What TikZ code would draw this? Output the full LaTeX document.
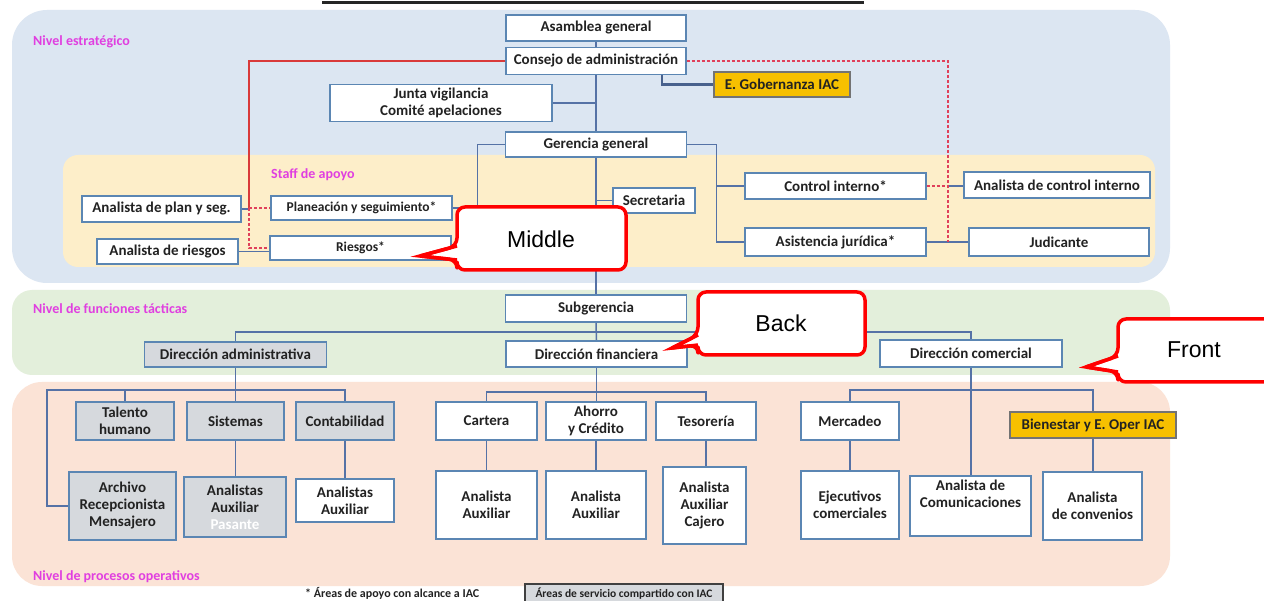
\documentclass[tikz,border=0pt]{standalone}
\usepackage{fontspec}
\setmainfont{Carlito}
\newfontfamily\calloutfont{Liberation Sans}
\usetikzlibrary{calc}
\pgfdeclarelayer{bg}
\pgfdeclarelayer{lines}
\pgfsetlayers{bg,lines,main}
\definecolor{bluebg}{HTML}{DCE6F2}
\definecolor{yellowbg}{HTML}{FDEEC9}
\definecolor{greenbg}{HTML}{E3EFDB}
\definecolor{peachbg}{HTML}{FBE3D6}
\definecolor{bordc}{HTML}{5B86B3}
\definecolor{connc}{HTML}{5572A6}
\definecolor{grayf}{HTML}{D6D9DD}
\definecolor{orangef}{HTML}{F7C000}
\definecolor{magc}{HTML}{E03FE0}
\definecolor{redl}{HTML}{D93A3A}
\definecolor{redd}{HTML}{E0405A}
\definecolor{txtc}{HTML}{222222}
\definecolor{callred}{HTML}{FF0000}
\begin{document}
\begin{tikzpicture}[x=1pt,y=-1pt,
  box/.style={draw=bordc, line width=1.7pt, fill=white, inner sep=0pt, align=center,
    font=\fontsize{15}{17}\selectfont\bfseries, text=txtc},
  sbox/.style={box, font=\fontsize{13.5}{16}\selectfont\bfseries},
  gbox/.style={box, fill=grayf},
  obox/.style={box, fill=orangef, draw=black!55},
  conn/.style={draw=connc, line width=1.5pt},
  redline/.style={draw=redl, line width=1.5pt},
  reddash/.style={draw=redd, line width=1.6pt, dash pattern=on 3pt off 2pt},
  lvl/.style={anchor=base west, inner sep=0pt, text=magc, font=\fontsize{14}{16}\selectfont\bfseries},
  callout/.style={draw=callred, line width=3.5pt, fill=white, line join=round},
  calltext/.style={font=\fontsize{23}{26}\calloutfont, text=black, inner sep=0pt}
]
\useasboundingbox (0,0) rectangle (1264,601);
\clip (0,0) rectangle (1264,601);

% backgrounds
\begin{pgfonlayer}{bg}
\fill[white] (0,0) rectangle (1264,601);
\fill[bluebg, rounded corners=35pt] (12,10) rectangle (1170,283);
\fill[yellowbg, rounded corners=15pt] (63,155) rectangle (1155,267);
\fill[greenbg, rounded corners=20pt] (12,290) rectangle (1170,375);
\fill[peachbg, rounded corners=30pt] (12,382) rectangle (1170,586);
\draw[line width=3pt, black!85] (322,2.5) -- (864,2.5);
\end{pgfonlayer}

% level labels
\node[lvl] (lvl1) at (33,46) {Nivel estratégico};
\node[lvl] (lvl2) at (271,179) {Staff de apoyo};
\node[lvl] (lvl3) at (33,314) {Nivel de funciones tácticas};
\node[lvl] (lvl4) at (33,580) {Nivel de procesos operativos};

% strategic
\node[box, minimum width=180, minimum height=26] (asamblea) at (596,28) {Asamblea general};
\node[box, minimum width=180, minimum height=27] (consejo) at (596,61) {Consejo de administración};
\node[obox, minimum width=136, minimum height=25] (egob) at (782,84.5) {E. Gobernanza IAC};
\node[box, minimum width=222, minimum height=37] (junta) at (441,103) {Junta vigilancia\\Comité apelaciones};
\node[box, minimum width=181, minimum height=25] (gerencia) at (596,144.5) {Gerencia general};

% staff
\node[box, minimum width=159, minimum height=26] (aplan) at (161.5,209) {Analista de plan y seg.};
\node[sbox, minimum width=181, minimum height=24] (planeacion) at (361.5,208) {Planeación y seguimiento*};
\node[box, minimum width=141, minimum height=25] (ariesgos) at (167.5,251.5) {Analista de riesgos};
\node[sbox, minimum width=181, minimum height=24] (riesgos) at (360.5,248) {Riesgos*};
\node[box, minimum width=82, minimum height=25] (secretaria) at (654,200.5) {Secretaria};
\node[box, minimum width=181, minimum height=26] (control) at (835.5,186) {Control interno*};
\node[box, minimum width=186, minimum height=26] (acontrol) at (1057,185) {Analista de control interno};
\node[box, minimum width=181, minimum height=28] (asistencia) at (835.5,242) {Asistencia jurídica*};
\node[box, minimum width=180, minimum height=28] (judicante) at (1059,242) {Judicante};

% tactical
\node[box, minimum width=181, minimum height=27] (subgerencia) at (596,308.5) {Subgerencia};
\node[gbox, minimum width=182, minimum height=25] (dadmin) at (235.5,354.5) {Dirección administrativa};
\node[box, minimum width=181, minimum height=26] (dfin) at (596.5,354) {Dirección financiera};
\node[box, minimum width=182, minimum height=27] (dcom) at (971,353.5) {Dirección comercial};

% operational row 1
\node[gbox, minimum width=98, minimum height=38] (talento) at (125,421) {Talento\\humano};
\node[gbox, minimum width=97, minimum height=38] (sistemas) at (235.5,421) {Sistemas};
\node[gbox, minimum width=98, minimum height=38] (contab) at (345,421) {Contabilidad};
\node[box, minimum width=101, minimum height=38] (cartera) at (486.5,421) {Cartera};
\node[box, minimum width=100, minimum height=38] (ahorro) at (596,421) {Ahorro\\y Crédito};
\node[box, minimum width=100, minimum height=38] (tesoreria) at (706,421) {Tesorería};
\node[box, minimum width=98, minimum height=38] (mercadeo) at (850,421) {Mercadeo};
\node[obox, minimum width=166, minimum height=26] (bienestar) at (1093,425) {Bienestar y E. Oper IAC};

% operational row 2
\node[gbox, minimum width=107, minimum height=68] (archivo) at (122.5,506) {Archivo\\Recepcionista\\Mensajero};
\node[gbox, minimum width=102, minimum height=60] (asis) at (235,507) {Analistas\\Auxiliar\\\textcolor{white}{Pasante}};
\node[box, minimum width=98, minimum height=43] (acont) at (345,500.5) {Analistas\\Auxiliar};
\node[box, minimum width=101, minimum height=68] (acart) at (486.5,505) {Analista\\Auxiliar};
\node[box, minimum width=100, minimum height=68] (aaho) at (596,505) {Analista\\Auxiliar};
\node[box, minimum width=83, minimum height=77] (ates) at (704.5,505.5) {Analista\\Auxiliar\\Cajero};
\node[box, minimum width=98, minimum height=68] (ejec) at (850,505) {Ejecutivos\\comerciales};
\node[box, minimum width=121, minimum height=60] (acom) at (970.5,506) {Analista de\\Comunicaciones\\[8pt]};
\node[box, minimum width=99, minimum height=68] (aconv) at (1092.5,506) {Analista\\de convenios};

% legend
\node[anchor=base west, inner sep=0pt, text=txtc, font=\fontsize{12}{14}\selectfont\bfseries] (leg1) at (305,597) {* Áreas de apoyo con alcance a IAC};
\node[draw=black!75, line width=1.5pt, fill=grayf, minimum width=198, minimum height=19, inner sep=0pt,
  text=txtc, font=\fontsize{11.5}{13}\selectfont\bfseries] (leg2) at (624,593.5) {Áreas de servicio compartido con IAC};

% connectors
\coordinate (rv) at (249,208);
\coordinate (rd) at (948,242);
\coordinate (gob) at (662,74);
\coordinate (tbar) at (596,332);
\coordinate (abar) at (235.5,390);
\coordinate (aleft) at (47,390);
\coordinate (fbar) at (596.5,392);
\coordinate (cbar) at (971,390);
\begin{pgfonlayer}{lines}
\draw[conn] (asamblea.south) -- (consejo.north);
\draw[conn] (consejo.south) -- (gerencia.north);
\draw[conn] (junta.east) -- (junta.east -| consejo.south);
\draw[draw=connc!85!black, line width=2.5pt] (gob) |- (egob.west);
\draw[conn] (gerencia.west) -- ++(-27,0) |- (planeacion.east);
\draw[conn] (gerencia.west) -- ++(-27,0) |- (riesgos.east);
\draw[conn] (gerencia.south) -- (subgerencia.north);
\draw[conn] (secretaria.west -| gerencia.south) -- (secretaria.west);
\draw[conn] (gerencia.east) -- ++(29,0) |- (control.west);
\draw[conn] (gerencia.east) -- ++(29,0) |- (asistencia.west);
\draw[conn] (control.east -| rd) -- (control.east -| acontrol.west);
\draw[conn] (asistencia.east) -- (asistencia.east -| judicante.west);
\draw[conn] (aplan.east) -- (aplan.east -| rv);
\draw[conn] (ariesgos.east) -- (ariesgos.east -| riesgos.west);
\draw[redline] (consejo.west) -| (rv);
\draw[reddash] (rv) -- (planeacion.west);
\draw[reddash] (rv) |- (riesgos.west);
\draw[reddash] (consejo.east) -| (rd);
\draw[reddash] (control.east) -- (control.east -| rd);
% tactical
\draw[conn] (subgerencia.south) -- (dfin.north);
\draw[conn] (dadmin.north) |- (tbar) -| (dcom.north);
% admin
\draw[conn] (dadmin.south) -- (abar);
\draw[conn] (talento.north) |- (abar) -| (contab.north);
\draw[conn] (abar) -- (sistemas.north);
\draw[conn] (talento.north |- abar) -- (aleft) |- (archivo.west);
\draw[conn] (sistemas.south) -- (asis.north -| sistemas.south);
\draw[conn] (contab.south) -- (acont.north);
% finance
\draw[conn] (dfin.south) -- (fbar);
\draw[conn] (cartera.north) |- (fbar) -| (tesoreria.north);
\draw[conn] (fbar) -- (ahorro.north -| fbar);
\draw[conn] (cartera.south) -- (acart.north);
\draw[conn] (ahorro.south) -- (aaho.north);
\draw[conn] (tesoreria.south) -- (tesoreria.south |- ates.north);
% commercial
\draw[conn] (dcom.south) -- (dcom.south |- acom.north);
\draw[conn] (mercadeo.north) |- (cbar) -| (bienestar.north);
\draw[conn] (mercadeo.south) -- (ejec.north);
\draw[conn] (bienestar.south) -- (bienestar.south |- aconv.north);
\end{pgfonlayer}

% callouts
\filldraw[callout, rounded corners=8pt] (420,256) -- (457,246) -- (457,207) -- (626,207) -- (626,270) -- (457,270) -- (457,260) -- (420,256);
\draw[draw=callred, line width=3.5pt, line join=miter] (457,260) -- (420,256) -- (457,246);
\node[calltext] (middle) at (541,239) {Middle};

\filldraw[callout, rounded corners=8pt] (672,348) -- (698,335) -- (698,292) -- (865,292) -- (865,355) -- (698,355) -- (698,345) -- (672,348);
\draw[draw=callred, line width=3.5pt, line join=miter] (698,345) -- (672,348) -- (698,335);
\node[calltext] (back) at (781,323) {Back};

\filldraw[callout, rounded corners=8pt] (1086,367) -- (1118,356) -- (1118,319) -- (1275,319) -- (1275,382) -- (1118,382) -- (1118,372) -- (1086,367);
\draw[draw=callred, line width=3.5pt, line join=miter] (1118,372) -- (1086,367) -- (1118,356);
\node[calltext] (front) at (1194,350) {Front};
\end{tikzpicture}
\end{document}
